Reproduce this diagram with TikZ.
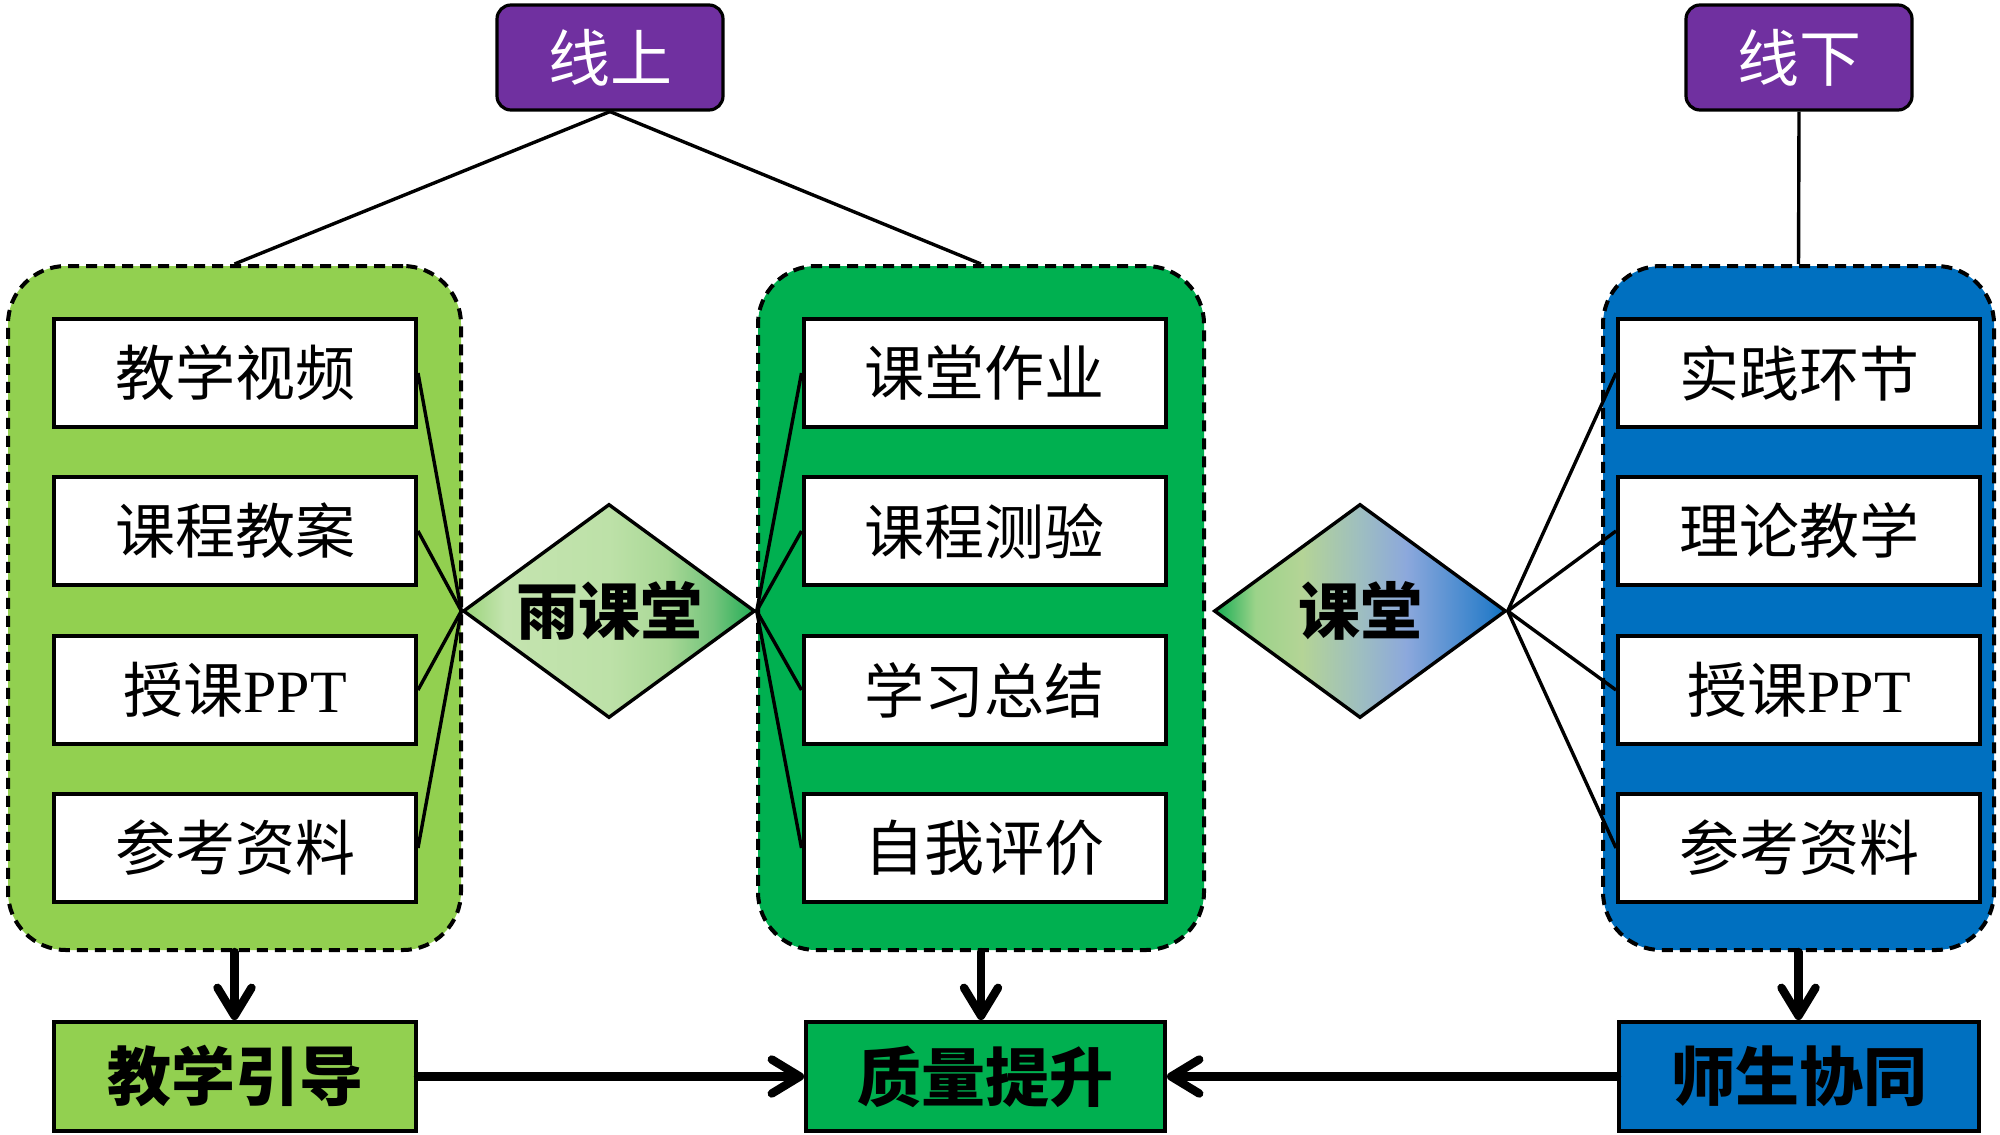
\documentclass[tikz,border=0pt]{standalone}
\usepackage{fontspec}
\setmainfont{Noto Sans CJK SC}
\newfontfamily\pptfont{Liberation Serif}
\usetikzlibrary{shapes.geometric,arrows.meta}
\definecolor{lgreen}{HTML}{92D050}
\definecolor{dgreen}{HTML}{00B050}
\definecolor{dblue}{HTML}{0070C0}
\definecolor{dpurple}{HTML}{7030A0}
\definecolor{ya}{HTML}{98D378}
\definecolor{yb}{HTML}{C4E4AF}
\definecolor{yc}{HTML}{BDE1A8}
\definecolor{yd}{HTML}{A9D896}
\definecolor{ye}{HTML}{74C47C}
\definecolor{yf}{HTML}{22AD55}
\definecolor{ka}{HTML}{14AC52}
\definecolor{kb}{HTML}{9CD38A}
\definecolor{kc}{HTML}{B4D496}
\definecolor{kd}{HTML}{9EBEC0}
\definecolor{ke}{HTML}{8CA8DC}
\definecolor{kf}{HTML}{2E7FCA}
\definecolor{kg}{HTML}{0A70C0}
\pgfdeclarehorizontalshading{yushade}{100bp}{color(0bp)=(ya); color(25bp)=(ya); color(32bp)=(yb); color(50bp)=(yc); color(60bp)=(yd); color(68bp)=(ye); color(75bp)=(yf); color(100bp)=(yf)}
\pgfdeclarehorizontalshading{ktshade}{100bp}{color(0bp)=(ka); color(25bp)=(ka); color(32bp)=(kb); color(40bp)=(kc); color(50bp)=(kd); color(58bp)=(ke); color(72bp)=(kf); color(75bp)=(kg); color(100bp)=(kg)}
\begin{document}
\begin{tikzpicture}[x=0.5pt,y=-0.5pt,
  grp/.style={draw=black, line width=2pt, dash pattern=on 5.5pt off 3.5pt, rounded corners=29pt, minimum height=342pt},
  ibox/.style={draw=black, fill=white, line width=2pt, minimum width=181pt, minimum height=54pt, inner sep=0pt, font=\fontsize{30}{36}\selectfont},
  bbox/.style={draw=black, line width=2pt, minimum height=54.5pt, inner sep=0pt, font=\fontsize{32}{38}\selectfont\bfseries},
  tbox/.style={draw=black, fill=dpurple, text=white, rounded corners=7pt, line width=1.6pt, minimum width=113pt, minimum height=52.5pt, inner sep=0pt, font=\fontsize{31}{36}\selectfont},
  dia/.style={diamond, draw=black, line width=1.7pt, aspect=1.38, minimum width=146pt, minimum height=107pt, inner sep=0pt, font=\fontsize{31}{36}\selectfont\bfseries},
  link/.style={line width=1.7pt},
  flow/.style={line width=4.2pt, line cap=round, -{Straight Barb[length=14pt,width=17pt,round]}}
]
\useasboundingbox (0,0) rectangle (2000,1134);
% groups
\node[grp, fill=lgreen, minimum width=226.5pt] (lg) at (234.5,608) {};
\node[grp, fill=dgreen, minimum width=223pt] (mg) at (981,608) {};
\node[grp, fill=dblue, minimum width=195.5pt] (rg) at (1798.5,608) {};
% top boxes
\node[tbox] (on) at (610,57.5) {线上};
\node[tbox] (off) at (1799,57.5) {线下};
% left inner boxes
\node[ibox] (l1) at (235,373) {教学视频};
\node[ibox] (l2) at (235,531) {课程教案};
\node[ibox] (l3) at (235,690) {授课{\pptfont PPT}};
\node[ibox] (l4) at (235,848) {参考资料};
% middle inner boxes
\node[ibox] (m1) at (984.5,373) {课堂作业};
\node[ibox] (m2) at (984.5,531) {课程测验};
\node[ibox] (m3) at (984.5,690) {学习总结};
\node[ibox] (m4) at (984.5,848) {自我评价};
% right inner boxes
\node[ibox] (r1) at (1799,373) {实践环节};
\node[ibox] (r2) at (1799,531) {理论教学};
\node[ibox] (r3) at (1799,690) {授课{\pptfont PPT}};
\node[ibox] (r4) at (1799,848) {参考资料};
% diamonds
\node[dia, shading=yushade] (d1) at (609,611) {雨课堂};
\node[dia, shading=ktshade] (d2) at (1360,611) {课堂};
% bottom boxes
\node[bbox, fill=lgreen, minimum width=181pt] (b1) at (235,1076.5) {教学引导};
\node[bbox, fill=dgreen, minimum width=179.5pt] (b2) at (985.5,1076.5) {质量提升};
\node[bbox, fill=dblue, minimum width=180pt] (b3) at (1799,1076.5) {师生协同};
% connectors from top boxes
\draw[link] (on.south) -- (lg.north);
\draw[link] (on.south) -- (mg.north);
\draw[link] (off.south) -- (rg.north);
% connectors from diamonds
\foreach \n in {l1,l2,l3,l4} \draw[link] (d1.west) -- (\n.east);
\foreach \n in {m1,m2,m3,m4} \draw[link] (d1.east) -- (\n.west);
\foreach \n in {r1,r2,r3,r4} \draw[link] (d2.east) -- (\n.west);
% flow arrows
\draw[flow] (lg.south) -- (lg.south |- b1.north);
\draw[flow] (mg.south) -- (mg.south |- b2.north);
\draw[flow] (rg.south) -- (rg.south |- b3.north);
\draw[flow] (b1.east) -- (b2.west);
\draw[flow] (b3.west) -- (b2.east);
\end{tikzpicture}
\end{document}
